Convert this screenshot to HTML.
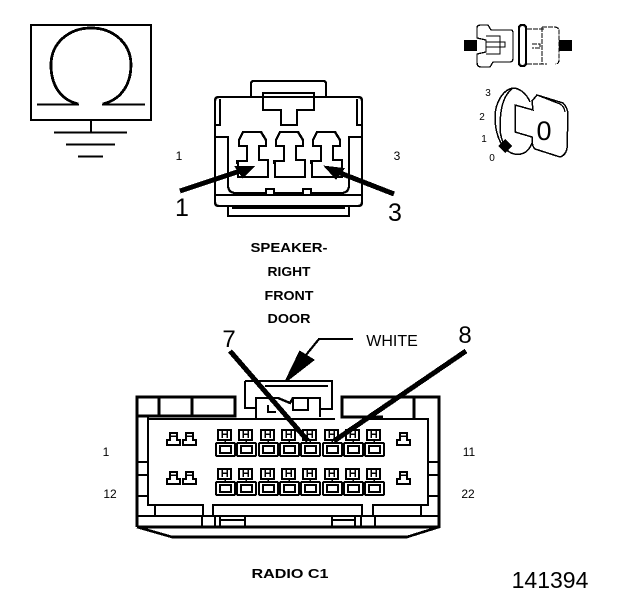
<!DOCTYPE html>
<html><head><meta charset="utf-8"><style>
html,body{margin:0;padding:0;background:#fff;width:624px;height:600px;overflow:hidden}
svg{display:block}
text{font-family:"Liberation Sans",sans-serif;fill:#000;stroke:none}
.b{font-weight:bold;font-size:13px;text-anchor:middle}
.s{font-size:12px;text-anchor:middle}
.l{font-size:25px;text-anchor:middle}
</style></head><body>
<svg width="624" height="600" viewBox="0 0 624 600" fill="none" stroke="#000" stroke-width="2.2" shape-rendering="crispEdges">
<defs>
<g id="cav"><path d="M243 132H261L266 140V146H259V160H268V177H238V163H237V161H247V146H239V140Z" stroke-width="2.4"/></g>
<g id="ft" stroke-width="2"><rect x="218" y="430" width="13" height="10"/><path d="M222 431V438M227 431V438M222 434H227M225 439V442" stroke-width="1.500"/><rect x="216" y="443" width="19" height="13" rx="1"/><rect x="220" y="446" width="11" height="7"/></g>
<g id="mt" stroke-width="2.400"><path d="M170 433H177V440H180V445H167V440H170Z"/><path d="M171 436H176" stroke-width="1.500"/></g>
</defs>

<!-- ground / omega -->
<rect x="31" y="25" width="120" height="95" stroke-width="2.400"/>
<path d="M78 104C58 99 51 82 51 65C51 42 70 28 91 28C113 28 131 43 131 65C131 82 123 99 103 104" stroke-width="2.800"/>
<path d="M37 104.500H79M102 104.500H145M91 120V132M54 132.500H127M66 144.500H115M78 156.500H103"/>

<!-- speaker connector -->
<path d="M215 125V101Q215 97 219 97H358Q362 97 362 101V202Q362 206 358 206H219Q215 206 215 202Z" stroke-width="2.400"/>
<path d="M251 97V84Q251 81 254 81H323Q326 81 326 84V97"/>
<path d="M263 93H314V110H297V125H281V110H263Z" stroke-width="2.400"/>
<path d="M220 99V125H215M357 99V125H362"/>
<path d="M215 137H228V185Q228 193 236 193H266V189H274V193H303V189H311V193H341Q349 193 349 185V137H362"/>
<path d="M215 195H362" stroke-width="2.400"/>
<path d="M228 206V216H349V206" stroke-width="2.400"/>
<path d="M232 208H345"/>
<use href="#cav"/><use href="#cav" x="37"/><use href="#cav" x="74"/>

<path d="M180 191L240 171" stroke-width="5"/>
<path d="M253 167L236 167L243 177Z" fill="#000" stroke-width="2"/>
<path d="M394 194L335 171" stroke-width="5"/>
<path d="M326 167L343 169L336 178Z" fill="#000"/>

<text class="s" x="179" y="160">1</text>
<text class="s" x="397" y="160">3</text>
<text class="l" x="182" y="216">1</text>
<text class="l" x="395" y="221">3</text>

<text class="b" x="289" y="252" textLength="77" lengthAdjust="spacingAndGlyphs">SPEAKER-</text>
<text class="b" x="289" y="276" textLength="43" lengthAdjust="spacingAndGlyphs">RIGHT</text>
<text class="b" x="289" y="300" textLength="49" lengthAdjust="spacingAndGlyphs">FRONT</text>
<text class="b" x="289" y="323" textLength="43" lengthAdjust="spacingAndGlyphs">DOOR</text>

<!-- key icon top right -->
<path d="M464 40H477V51H464ZM559 40H572V51H559Z" fill="#000" stroke="none"/>
<path d="M477 33V28Q477 25 481 25H488L491 30H511Q513 30 513 33V58Q513 62 510 62H493L490 67H481Q477 67 477 62V54L486 52V40L477 38Z" stroke-width="1.300"/>
<path d="M486 36H500V54H486M486 42H505V47H486" stroke-width="1.300"/>
<rect x="519" y="25" width="7" height="41" rx="3" stroke-width="2.400"/>
<path d="M527 29H545M527 64H547M542 27H554Q559 27 559 31V60Q559 64 555 64M542 27V64M532 44H540V48H532" stroke-width="1.200" stroke-dasharray="5 1"/>

<path d="M530 102C526 92 518 88 513 88C502 90 495 104 495 117C495 132 500 146 508 151C514 156 527 157 532 143" stroke-width="1.500"/>
<path d="M513 88C502 96 500 112 500 128C500 134 502 142 506 148" stroke-width="1.500"/>
<path d="M532 101L537 95L563 103Q568 108 568 115L567 148Q566 155 560 157L535 149Q532 147 532 137L515 132V105L533 110L532 101Z" stroke-width="1.500"/>
<path d="M537 95L560 104Q564 106 565 112" stroke-width="1.300"/>
<path d="M505 139L512 146L505 153L498 146Z" fill="#000" stroke="none"/>
<text x="488" y="96" style="font-size:10px" text-anchor="middle">3</text>
<text x="482" y="120" style="font-size:10px" text-anchor="middle">2</text>
<text x="484" y="142" style="font-size:10px" text-anchor="middle">1</text>
<text x="492" y="161" style="font-size:10px" text-anchor="middle">0</text>
<text x="544" y="140" style="font-size:27px" text-anchor="middle">0</text>

<!-- radio connector -->
<path d="M137 527V397H235V416H137M159 397V416M192 397V416" stroke-width="2.600"/>
<path d="M137 527L172 537H407L439 527V397H342V417H383M414 397V418M137 527H439" stroke-width="2.600"/>
<path d="M148 416V505H203V516M148 419H335M362 419H428V505H373V516M213 516V505H362V516" stroke-width="2.400"/>
<path d="M137 516H439" stroke-width="2.400"/>
<path d="M155 505V516M421 505V516M137 462H148M137 475H148M137 496H148M428 462H439M428 475H439M428 496H439" stroke-width="2.200"/>
<path d="M202 516V527M215 516V527M220 516V527M245 516V527M332 516V527M355 516V527M361 516V527M375 516V527M220 520H245M332 520H355" stroke-width="2.200"/>
<!-- latch -->
<path d="M245 381V408H255M245 381H332V409H320M265 386H328" stroke-width="2.400"/>
<path d="M256 419V398H278L290 403L293 398H320V417" stroke-width="2.400"/>
<path d="M293 398H308V410H293Z" stroke-width="2.400"/>
<path d="M268 405V412H276" stroke-width="2"/>

<use href="#ft"/><use href="#ft" x="21"/><use href="#ft" x="43"/><use href="#ft" x="64"/><use href="#ft" x="85"/><use href="#ft" x="107"/><use href="#ft" x="128"/><use href="#ft" x="149"/>
<use href="#ft" y="39"/><use href="#ft" x="21" y="39"/><use href="#ft" x="43" y="39"/><use href="#ft" x="64" y="39"/><use href="#ft" x="85" y="39"/><use href="#ft" x="107" y="39"/><use href="#ft" x="128" y="39"/><use href="#ft" x="149" y="39"/>
<use href="#mt"/><use href="#mt" x="16"/><use href="#mt" y="39"/><use href="#mt" x="16" y="39"/><use href="#mt" x="230"/><use href="#mt" x="230" y="39"/>

<path d="M230 351L308 441" stroke-width="5"/>
<path d="M466 351L334 441" stroke-width="5"/>
<path d="M353 339H319L306 355"/>
<path d="M286 381L300 352L313 360Z" fill="#000"/>

<text class="l" x="229" y="347" style="font-size:24px">7</text>
<text class="l" x="465" y="343" style="font-size:24px">8</text>
<text x="392" y="346" style="font-size:16px" text-anchor="middle">WHITE</text>
<text class="s" x="106" y="456">1</text>
<text class="s" x="469" y="456">11</text>
<text class="s" x="110" y="498">12</text>
<text class="s" x="468" y="498">22</text>
<text class="b" x="290" y="578" textLength="77" lengthAdjust="spacingAndGlyphs">RADIO C1</text>
<text x="550" y="588" style="font-size:23px" text-anchor="middle">141394</text>
</svg>
</body></html>
